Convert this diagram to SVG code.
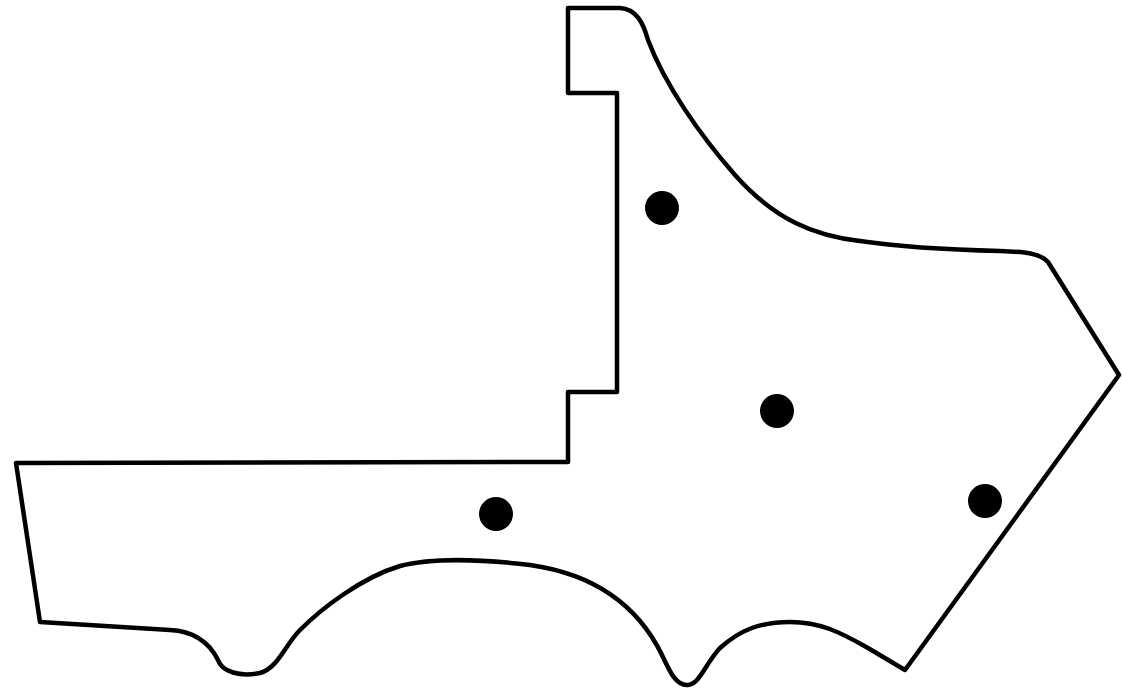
<svg xmlns="http://www.w3.org/2000/svg" width="1122" height="690" viewBox="0 0 1122 690">
<style>
.outline{fill:none;stroke:#000;stroke-width:4.5;stroke-linejoin:round;stroke-linecap:round}
.dot{fill:#000}
</style>
<rect width="1122" height="690" fill="#fff"/>
<g id="shape">
<path class="outline" d="M568,8 L620,8 C636,9 643,22 648,40 C665,85 700,135 735,175 C775,220 815,236 860,241 C900,247 960,250 1000,251 C1025,252 1040,253 1048,262 L1119,375 L905,670 L868,648 C840,632 820,622 790,622 C760,622 740,630 720,648 C705,664 700,684 688,685 C676,686 670,672 662,655 C640,610 600,575 530,565 C480,559 430,558 400,566 C360,578 320,610 300,630 C285,645 278,668 260,673 C240,677 222,672 218,660 C208,640 190,631 170,630 L40,622 L16,463 L568,462 L568,392 L617,392 L617,93 L568,93 Z"/>
</g>
<g id="dots">
<circle class="dot" cx="662" cy="208" r="17"/>
<circle class="dot" cx="777" cy="411" r="17"/>
<circle class="dot" cx="496" cy="514" r="17"/>
<circle class="dot" cx="985" cy="501" r="17"/>
</g>
</svg>
